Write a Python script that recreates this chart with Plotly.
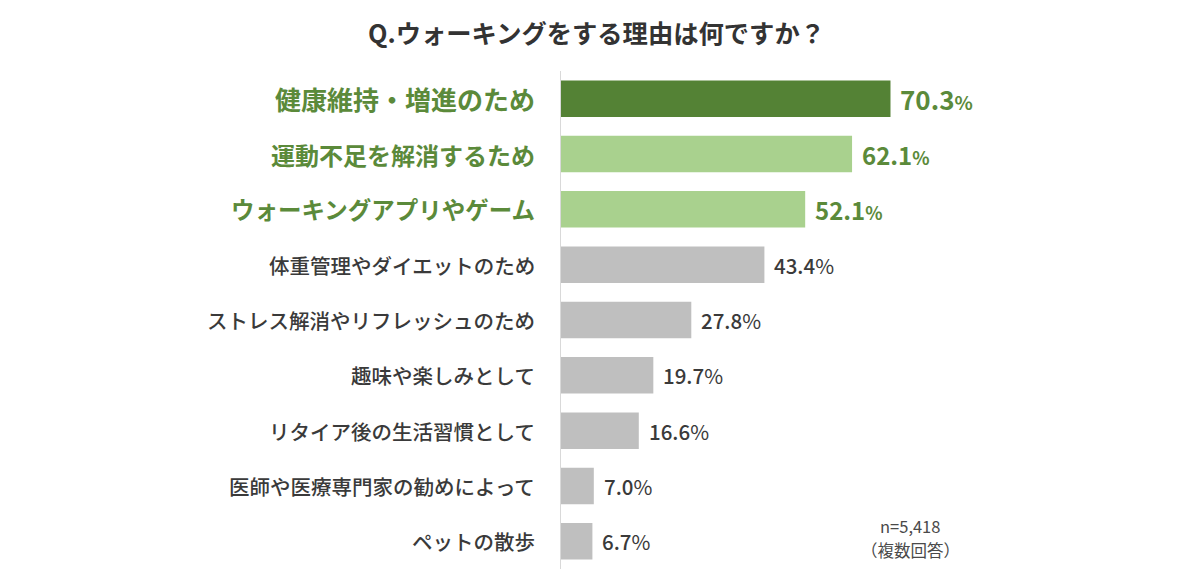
import plotly.graph_objects as go

categories = [
    "健康維持・増進のため",
    "運動不足を解消するため",
    "ウォーキングアプリやゲーム",
    "体重管理やダイエットのため",
    "ストレス解消やリフレッシュのため",
    "趣味や楽しみとして",
    "リタイア後の生活習慣として",
    "医師や医療専門家の勧めによって",
    "ペットの散歩",
]
values = [70.3, 62.1, 52.1, 43.4, 27.8, 19.7, 16.6, 7.0, 6.7]
bar_colors = ["#548235", "#a9d18e", "#a9d18e"] + ["#bfbfbf"] * 6
label_colors = ["#5b8a3a"] * 3 + ["#3a3a3a"] * 6
label_sizes = [26, 24, 23.5] + [20.5] * 6
value_sizes = [26, 24, 24] + [20.5] * 6
pct_sizes = [19, 18, 18] + [20.5] * 6
note_lines = ["n=5,418", "（複数回答）"]

FONT = "Noto Sans CJK JP"

fig = go.Figure()
fig.add_trace(go.Bar(
    x=values, y=categories, orientation="h",
    marker=dict(color=bar_colors, line=dict(width=0)),
    hoverinfo="skip",
))

annotations = []
for i, (c, v) in enumerate(zip(categories, values)):
    bold = i < 3
    annotations.append(dict(
        x=0, y=c, xref="x", yref="y", xanchor="right", yanchor="middle",
        xshift=-24, showarrow=False, text=c,
        font=dict(family=FONT, size=label_sizes[i], color=label_colors[i],
                  weight=700 if bold else 500),
    ))
    if bold:
        txt = f"{v:.1f}<span style='font-size:{pct_sizes[i]}px'>%</span>"
    else:
        txt = f"{v:.1f}<span style='font-weight:400'>%</span>"
    annotations.append(dict(
        x=v, y=c, xref="x", yref="y", xanchor="left", yanchor="middle",
        xshift=8, showarrow=False, text=txt,
        font=dict(family=FONT, size=value_sizes[i], color=label_colors[i],
                  weight=700 if bold else 500),
    ))

for line, yp in zip(note_lines, [0.0873, 0.0382]):
    annotations.append(dict(
        x=0.6475, y=yp, xref="paper", yref="paper", xanchor="center", yanchor="middle",
        showarrow=False, text=line, align="center", borderpad=0,
        font=dict(family=FONT, size=16.5, color="#4a4a4a"),
    ))

fig.update_layout(
    width=1177, height=571,
    margin=dict(l=553, r=85, t=63, b=10),
    paper_bgcolor="white", plot_bgcolor="white",
    showlegend=False,
    bargap=0.34,
    title=dict(
        text="Q.ウォーキングをする理由は何ですか？",
        x=0.5, xref="container", xanchor="center",
        y=1 - 26.5 / 571, yref="container", yanchor="middle",
        font=dict(family=FONT, size=25.3, color="#333333", weight=700),
    ),
    xaxis=dict(range=[0, 115], visible=False, fixedrange=True),
    yaxis=dict(
        categoryorder="array", categoryarray=categories, autorange="reversed",
        showticklabels=False, ticks="", showgrid=False, zeroline=False,
        showline=True, linecolor="#d9d9d9", linewidth=1,
    ),
    annotations=annotations,
)

fig.write_html("out.html")
